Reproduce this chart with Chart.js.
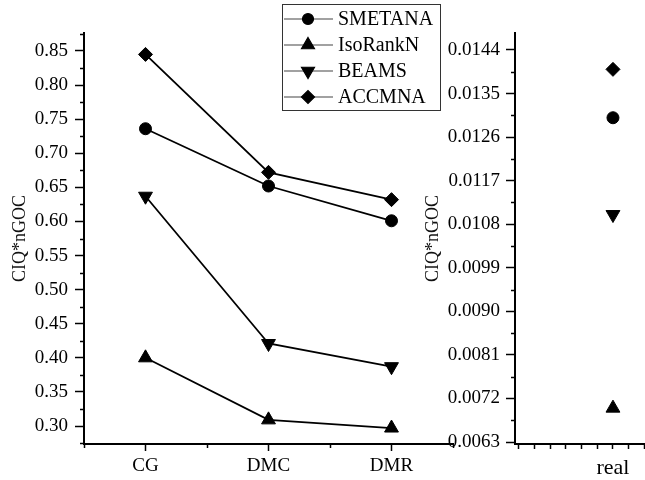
<!DOCTYPE html>
<html>
<head>
<meta charset="utf-8">
<script src="https://cdn.jsdelivr.net/npm/chart.js@4/dist/chart.umd.min.js"></script>
<style>
  html, body { margin: 0; padding: 0; background: #fff; overflow: hidden; }
  #wrap { position: relative; width: 645px; height: 480px; }
  #leftChart { position: absolute; left: 0; top: 0; }
  #rightChart { position: absolute; left: 410px; top: 0; }
</style>
</head>
<body>
<div id="wrap">
  <canvas id="leftChart" width="470" height="480"></canvas>
  <canvas id="rightChart" width="235" height="480"></canvas>
</div>
<script>
// data
const categories = ['CG', 'DMC', 'DMR'];
const seriesNames = ['SMETANA', 'IsoRankN', 'BEAMS', 'ACCMNA'];
const smetana = [0.736, 0.652, 0.601];
const isoRankN = [0.400, 0.309, 0.297];
const beams = [0.637, 0.421, 0.387];
const accmna = [0.845, 0.672, 0.632];
const realCategory = ['real'];
// order: SMETANA, IsoRankN, BEAMS, ACCMNA
const realValues = [0.0130, 0.0070, 0.0110, 0.0140];

const leftYTicks = [0.30, 0.35, 0.40, 0.45, 0.50, 0.55, 0.60, 0.65, 0.70, 0.75, 0.80, 0.85];
const rightYTicks = [0.0063, 0.0072, 0.0081, 0.0090, 0.0099, 0.0108, 0.0117, 0.0126, 0.0135, 0.0144];
const rightXTicks = [0, 1, 2, 3, 4, 5, 6, 7, 8];
const REAL_AT = 6;

const axisTitle = 'CIQ*nGOC';
const serif = '"Liberation Serif", "Times New Roman", serif';

const markers = [
  { pointStyle: 'circle', radius: 6, rotation: 0 },
  { pointStyle: 'triangle', radius: 8, rotation: 0 },
  { pointStyle: 'triangle', radius: 8, rotation: 180 },
  { pointStyle: 'rectRot', radius: 7, rotation: 0 }
];

// minor ticks halfway between major ones
function halfSteps(ticks, min, max) {
  const step = ticks[1] - ticks[0];
  const out = [];
  for (let v = ticks[0] - step / 2; v <= max; v += step) {
    if (v >= min) out.push(v);
  }
  return out;
}

const minorTicks = {
  id: 'minorTicks',
  afterDraw(chart, args, opts) {
    const ctx = chart.ctx;
    ctx.save();
    ctx.strokeStyle = '#000';
    ctx.lineWidth = 1.5;
    const y = chart.scales.y;
    (opts.y || []).forEach(v => {
      const p = Math.round(y.getPixelForValue(v)) + 0.5;
      ctx.beginPath();
      ctx.moveTo(y.right - opts.len, p);
      ctx.lineTo(y.right, p);
      ctx.stroke();
    });
    const x = chart.scales.x;
    (opts.x || []).forEach(v => {
      const p = Math.round(x.getPixelForValue(v)) + 0.5;
      ctx.beginPath();
      ctx.moveTo(p, x.top);
      ctx.lineTo(p, x.top + opts.len);
      ctx.stroke();
    });
    ctx.restore();
  }
};

// boxed legend with line + marker
const boxLegend = {
  id: 'boxLegend',
  afterDraw(chart) {
    const ctx = chart.ctx;
    const x0 = 282, y0 = 4, w = 158, h = 106;
    ctx.save();
    ctx.fillStyle = '#fff';
    ctx.fillRect(x0, y0, w, h);
    ctx.strokeStyle = '#333';
    ctx.lineWidth = 1;
    ctx.strokeRect(x0 + 0.5, y0 + 0.5, w, h);
    ctx.font = '20px ' + serif;
    ctx.textBaseline = 'middle';
    chart.data.datasets.forEach((ds, i) => {
      const cy = 19 + i * 26;
      ctx.strokeStyle = '#444';
      ctx.lineWidth = 1.2;
      ctx.beginPath();
      ctx.moveTo(x0 + 2, cy);
      ctx.lineTo(x0 + 51, cy);
      ctx.stroke();
      ctx.fillStyle = '#000';
      ctx.strokeStyle = '#000';
      Chart.helpers.drawPoint(ctx, {
        pointStyle: ds.pointStyle, rotation: ds.pointRotation,
        radius: ds.pointRadius - 0.5, borderWidth: 1
      }, x0 + 26, cy);
      ctx.fillStyle = '#000';
      ctx.fillText(ds.label, x0 + 56, cy + 1);
    });
    ctx.restore();
  }
};

const leftSeries = [smetana, isoRankN, beams, accmna];

new Chart(document.getElementById('leftChart'), {
  type: 'line',
  data: {
    labels: categories,
    datasets: leftSeries.map((vals, i) => ({
      label: seriesNames[i],
      data: vals,
      borderColor: '#000',
      borderWidth: 1.8,
      backgroundColor: '#000',
      pointBackgroundColor: '#000',
      pointBorderColor: '#000',
      pointBorderWidth: 1,
      pointStyle: markers[i].pointStyle,
      pointRadius: markers[i].radius,
      pointRotation: markers[i].rotation,
      tension: 0
    }))
  },
  options: {
    responsive: false,
    animation: false,
    layout: { autoPadding: false, padding: { top: 33, right: 17, left: 0, bottom: 0 } },
    plugins: {
      legend: { display: false },
      tooltip: { enabled: false },
      minorTicks: {
        len: 4,
        y: halfSteps(leftYTicks, 0.2736, 0.8764),
        x: [-0.5, 0.5, 1.5, 2.5]
      }
    },
    scales: {
      x: {
        type: 'category',
        offset: true,
        grid: { display: true, drawOnChartArea: false, offset: false, tickLength: 7, tickColor: '#000', tickWidth: 1.5 },
        border: { color: '#000', width: 2 },
        ticks: { color: '#000', padding: 4, font: { family: serif, size: 19 }, maxRotation: 0 },
        afterFit(s) { s.height = 36; s.paddingLeft = 0; s.paddingRight = 0; }
      },
      y: {
        type: 'linear',
        min: 0.2736,
        max: 0.8764,
        afterBuildTicks(s) { s.ticks = leftYTicks.map(v => ({ value: v })); },
        grid: { display: true, drawOnChartArea: false, tickLength: 9, tickColor: '#000', tickWidth: 1.5 },
        border: { color: '#000', width: 2 },
        ticks: { color: '#000', padding: 7, font: { family: serif, size: 19 }, callback: v => v.toFixed(2) },
        title: { display: true, text: axisTitle, color: '#111', font: { family: serif, size: 18 }, padding: { top: 9, bottom: 0 } },
        afterFit(s) { s.width = 84; }
      }
    }
  },
  plugins: [minorTicks, boxLegend]
});

new Chart(document.getElementById('rightChart'), {
  type: 'scatter',
  data: {
    datasets: realValues.map((v, i) => ({
      label: seriesNames[i],
      data: [{ x: REAL_AT, y: v }],
      showLine: false,
      backgroundColor: '#000',
      borderColor: '#000',
      pointBackgroundColor: '#000',
      pointBorderColor: '#000',
      pointBorderWidth: 1,
      pointStyle: markers[i].pointStyle,
      pointRadius: markers[i].radius,
      pointRotation: markers[i].rotation
    }))
  },
  options: {
    responsive: false,
    animation: false,
    layout: { autoPadding: false, padding: { top: 33, right: 0, left: 0, bottom: 0 } },
    plugins: {
      legend: { display: false },
      tooltip: { enabled: false },
      minorTicks: {
        len: 4,
        y: halfSteps(rightYTicks, 0.006259, 0.014751)
      }
    },
    scales: {
      x: {
        type: 'linear',
        min: -0.255,
        max: 8.045,
        afterBuildTicks(s) { s.ticks = rightXTicks.map(v => ({ value: v })); },
        grid: { display: true, drawOnChartArea: false, tickLength: 5, tickColor: '#000', tickWidth: 1.5 },
        border: { color: '#000', width: 2 },
        ticks: {
          color: '#000', padding: 6, autoSkip: false, maxRotation: 0,
          font: { family: serif, size: 22 },
          callback: v => (v === REAL_AT ? realCategory[0] : '')
        },
        afterFit(s) { s.height = 36; s.paddingLeft = 0; s.paddingRight = 0; }
      },
      y: {
        type: 'linear',
        min: 0.006259,
        max: 0.014751,
        afterBuildTicks(s) { s.ticks = rightYTicks.map(v => ({ value: v })); },
        grid: { display: true, drawOnChartArea: false, tickLength: 9, tickColor: '#000', tickWidth: 1.5 },
        border: { color: '#000', width: 2 },
        ticks: { color: '#000', padding: 6, font: { family: serif, size: 19 }, callback: v => v.toFixed(4) },
        title: { display: true, text: axisTitle, color: '#111', font: { family: serif, size: 18 }, padding: { top: 12, bottom: 0 } },
        afterFit(s) { s.width = 105; }
      }
    }
  },
  plugins: [minorTicks]
});
</script>
</body>
</html>
